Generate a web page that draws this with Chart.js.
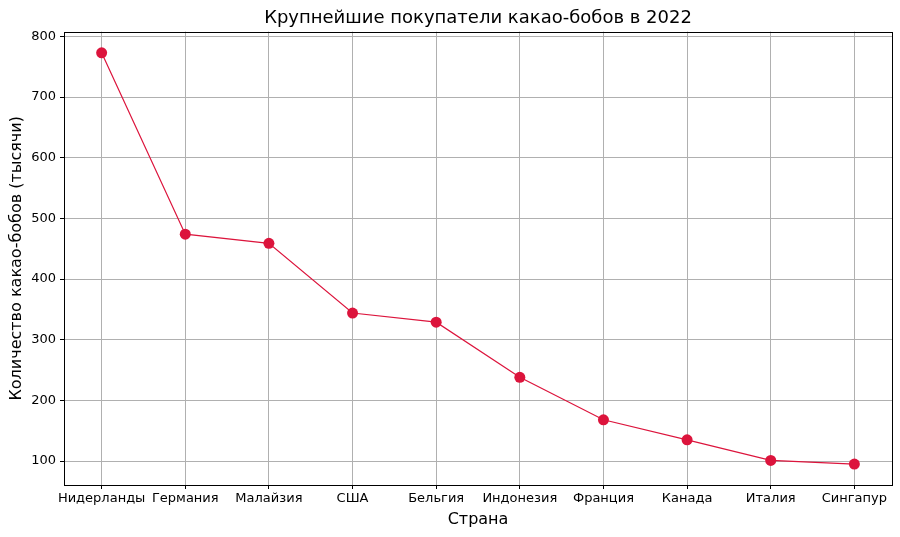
<!DOCTYPE html>
<html>
<head>
<meta charset="utf-8">
<script src="https://cdn.jsdelivr.net/npm/chart.js@4"></script>
<style>
  html, body { margin: 0; padding: 0; background: #fff; }
  #wrap { width: 900px; height: 537px; }
</style>
</head>
<body>
<div id="wrap"><canvas id="c" width="900" height="537"></canvas></div>
<script>
const categories = ["Нидерланды", "Германия", "Малайзия", "США", "Бельгия", "Индонезия", "Франция", "Канада", "Италия", "Сингапур"];
const values = [773, 474, 459, 344, 329, 238, 168, 135, 101, 95];
const yTicks = [100, 200, 300, 400, 500, 600, 700, 800];

const FONT = "'DejaVu Sans', sans-serif";
const COLOR = "#DC143C";

const boxPlugin = {
  id: 'box',
  afterLayout(chart) {
    const t = chart.titleBlock, a = chart.chartArea;
    if (t && a) { t.left = a.left; t.right = a.right; t.width = a.right - a.left; }
  },
  afterDraw(chart) {
    const a = chart.chartArea, ctx = chart.ctx;
    ctx.save();
    ctx.strokeStyle = '#000';
    ctx.lineWidth = 1;
    ctx.strokeRect(Math.round(a.left) + 0.5, Math.round(a.top) + 0.5, Math.round(a.right - a.left), Math.round(a.bottom - a.top));
    ctx.restore();
  }
};

new Chart(document.getElementById('c'), {
  type: 'line',
  data: {
    datasets: [{
      data: values.map((v, i) => ({ x: i, y: v })),
      borderColor: COLOR,
      backgroundColor: COLOR,
      borderWidth: 1.2,
      pointRadius: 5.5,
      pointHoverRadius: 5.5,
      pointBackgroundColor: COLOR,
      pointBorderColor: COLOR,
      pointBorderWidth: 0,
      tension: 0,
      clip: false
    }]
  },
  options: {
    responsive: false,
    animation: false,
    devicePixelRatio: 1,
    layout: { padding: { left: 7, right: 8, top: 0, bottom: 8 } },
    plugins: {
      legend: { display: false },
      tooltip: { enabled: false },
      title: {
        display: true,
        text: "Крупнейшие покупатели какао-бобов в 2022",
        color: '#000',
        font: { family: FONT, size: 18, weight: 'normal' },
        padding: { top: 8, bottom: 2 }
      }
    },
    scales: {
      x: {
        type: 'linear',
        min: -0.45,
        max: categories.length - 1 + 0.45,
        afterBuildTicks(scale) { scale.ticks = categories.map((c, i) => ({ value: i })); },
        afterFit(scale) { scale.height = 44; },
        ticks: {
          callback: (v) => categories[v] ?? '',
          color: '#000',
          font: { family: FONT, size: 13 },
          padding: 2,
          maxRotation: 0,
          autoSkip: false
        },
        grid: { color: '#b0b0b0', lineWidth: 1, tickColor: '#000', tickLength: 4 },
        border: { display: false },
        title: {
          display: true,
          text: 'Страна',
          color: '#000',
          font: { family: FONT, size: 16 },
          padding: { top: 2, bottom: 0 }
        }
      },
      y: {
        type: 'linear',
        min: 60.5,
        max: 808,
        afterBuildTicks(scale) { scale.ticks = yTicks.map(v => ({ value: v })); },
        afterFit(scale) { scale.width = 57; },
        ticks: {
          color: '#000',
          font: { family: FONT, size: 13 },
          padding: 4
        },
        grid: { color: '#b0b0b0', lineWidth: 1, tickColor: '#000', tickLength: 4 },
        border: { display: false },
        title: {
          display: true,
          text: 'Количество какао-бобов (тысячи)',
          color: '#000',
          font: { family: FONT, size: 16 },
          padding: { top: 0, bottom: 4 }
        }
      }
    }
  },
  plugins: [boxPlugin]
});
</script>
</body>
</html>
